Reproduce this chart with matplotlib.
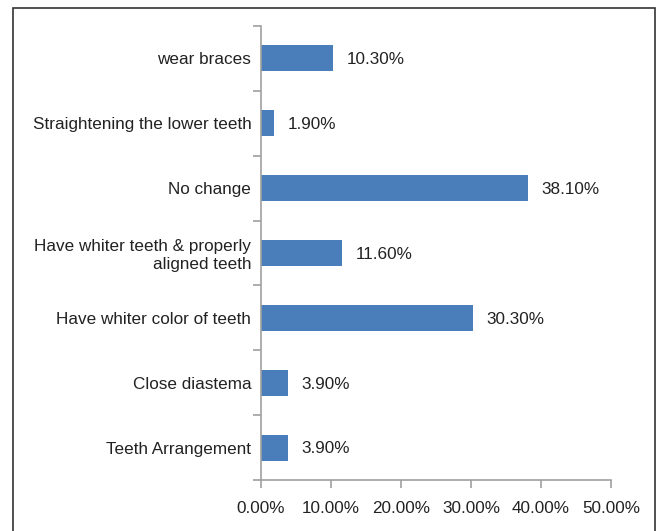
import matplotlib.pyplot as plt
from matplotlib.patches import Rectangle

plt.rcParams['font.family'] = ['Liberation Sans', 'DejaVu Sans']

# categories from bottom to top
categories = ['Teeth Arrangement', 'Close diastema', 'Have whiter color of teeth',
              'Have whiter teeth & properly\naligned teeth', 'No change',
              'Straightening the lower teeth', 'wear braces']
values = [3.9, 3.9, 30.3, 11.6, 38.1, 1.9, 10.3]
x_ticks = [0, 10, 20, 30, 40, 50]

fig = plt.figure(figsize=(6.59, 5.31), dpi=100)
ax = fig.add_axes([261/659, 1 - 480/531, (611-261)/659, (480-26)/531])

ax.barh(range(len(categories)), values, height=0.4, color='#4a7ebb')
for i, v in enumerate(values):
    ax.text(v + 1.9, i - 0.02, f'{v:.2f}%', va='center', ha='left', fontsize=12.3, color='#222222')

ax.set_xlim(0, 50)
ax.set_ylim(-0.5, len(categories) - 0.5)
ax.set_xticks(x_ticks)
ax.set_xticklabels([f'{t:.2f}%' for t in x_ticks], fontsize=12.3, color='#222222')
ax.set_yticks(range(len(categories)))
ax.set_yticklabels(categories, fontsize=12.3, color='#222222', linespacing=1.2)
ax.set_yticks([i - 0.5 for i in range(len(categories) + 1)], minor=True)
ax.tick_params(axis='y', which='major', length=0, pad=7)
ax.tick_params(axis='y', which='minor', length=6, width=1.2, color='#a0a0a0')
ax.tick_params(axis='x', length=6, width=1.2, color='#a0a0a0', pad=9)
for lab in ax.get_yticklabels():
    lab.set_multialignment('right')

for s in ['top', 'right']:
    ax.spines[s].set_visible(False)
for s in ['left', 'bottom']:
    ax.spines[s].set_color('#a0a0a0')
    ax.spines[s].set_linewidth(1.2)

# outer frame
fig.patches.append(Rectangle((13/659, -0.02), (655-13)/659, 1.02 - 8/531,
                             transform=fig.transFigure, fill=False,
                             edgecolor='#333333', linewidth=1.2))

fig.savefig('out.png', dpi=100)
